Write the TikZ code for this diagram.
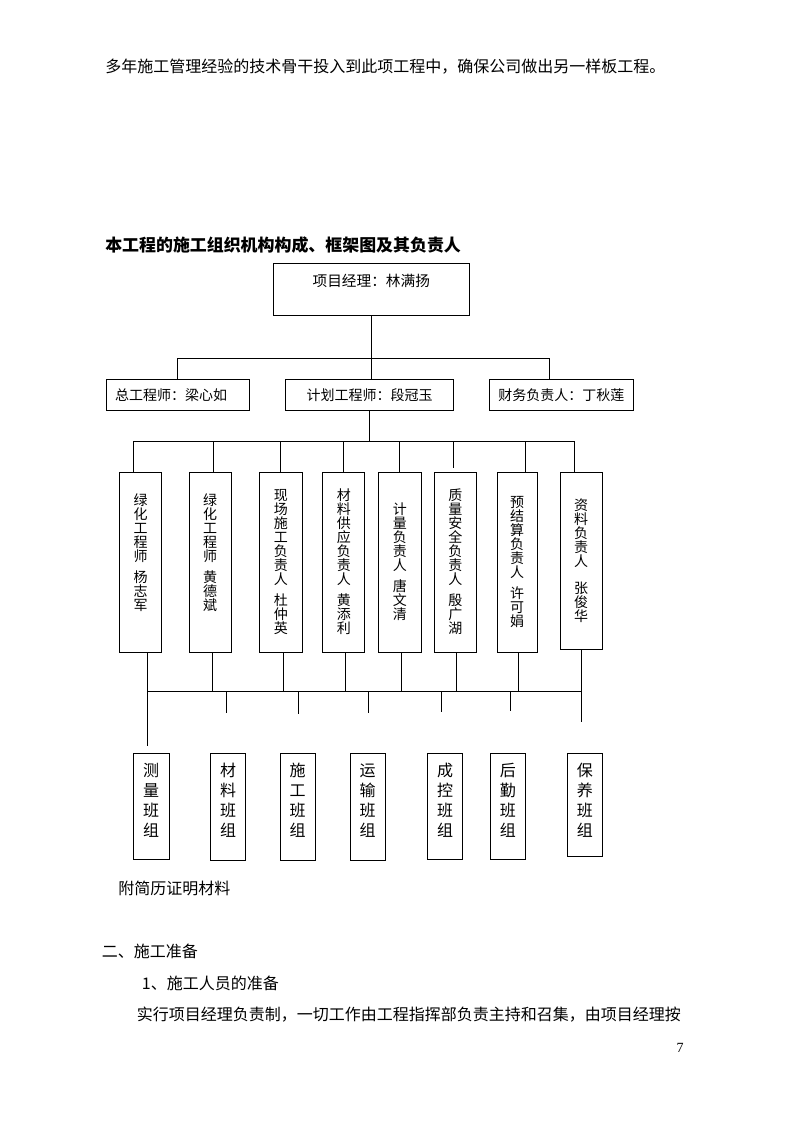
\documentclass[tikz,border=0pt]{standalone}
\usepackage{fontspec}
\setmainfont{Liberation Serif}
\newfontfamily\cjk{Noto Sans CJK SC}
\newcommand\PX{0.75pt}
% vertical stack: shift, size, skip, content
\newcommand\stk[4]{\raisebox{#1}[\height][\depth]{\parbox{20pt}{\centering\fontsize{#2}{#3}\selectfont #4}}}
\tikzset{
  ln/.style={line width=0.7pt},
  hbox/.style={draw, line width=0.7pt, inner sep=0pt, minimum height=31*\PX, font=\cjk\fontsize{10.5}{12}\selectfont},
  vbox/.style={draw, line width=0.7pt, inner sep=0pt, font=\cjk},
  gbox/.style={draw, line width=0.7pt, inner sep=0pt, font=\cjk},
  para/.style={anchor=west, inner sep=0pt, font=\cjk\fontsize{12}{14}\selectfont},
}
\begin{document}
\begin{tikzpicture}[x=0.75pt, y=-0.75pt]
\fill[white] (0,0) rectangle (794,1123);
\useasboundingbox (0,0) rectangle (794,1123);

% running text
\node[para] (p1) at (105,67) {多年施工管理经验的技术骨干投入到此项工程中，确保公司做出另一样板工程。};
\node[para, font=\cjk\bfseries\fontsize{12.7}{14}\selectfont] (hd) at (105,245.5) {本工程的施工组织机构构成、框架图及其负责人};

% top
\node[draw, line width=0.7pt, anchor=north, inner sep=0pt, minimum width=196*\PX,
      text height=16.9pt, text depth=22.1pt, font=\cjk\fontsize{11}{12}\selectfont]
      (top) at (371.3,263.3) {项目经理：林满扬};

% second row
\node[hbox, text width=125*\PX, align=left, inner xsep=9*\PX] (A) at (177.5,394.8) {总工程师：梁心如};
\node[hbox, minimum width=167.6*\PX] (B) at (369.5,394.8) {计划工程师：段冠玉};
\node[hbox, minimum width=144*\PX] (C) at (561.3,394.8) {财务负责人：丁秋莲};

\coordinate (h1L) at (177.3,358);
\coordinate (h1R) at (549.3,358);
\draw[ln] (top.south) -- (top.south |- B.north);
\draw[ln] (h1L) -- (h1R);
\draw[ln] (h1L) -- (h1L |- A.north);
\draw[ln] (h1R) -- (h1R |- C.north);

% third row (vertical boxes), y 472-652
\node[vbox, minimum width=42.4*\PX, minimum height=180*\PX] (v1) at (140.5,562) {\stk{7.1pt}{10.5}{10.5}{绿\\化\\工\\程\\师\\[5pt]杨\\志\\军}};
\node[vbox, minimum width=41.7*\PX, minimum height=180*\PX] (v2) at (210.2,562) {\stk{7.1pt}{10.5}{10.5}{绿\\化\\工\\程\\师\\[5pt]黄\\德\\斌}};
\node[vbox, minimum width=43*\PX, minimum height=180*\PX] (v3) at (280.8,562) {\stk{0pt}{10.5}{10.5}{现\\场\\施\\工\\负\\责\\人\\[5pt]杜\\仲\\英}};
\node[vbox, minimum width=42.3*\PX, minimum height=180*\PX] (v4) at (343.8,562) {\stk{0pt}{10.5}{10.5}{材\\料\\供\\应\\负\\责\\人\\[5pt]黄\\添\\利}};
\node[vbox, minimum width=43*\PX, minimum height=180*\PX] (v5) at (399.8,562) {\stk{0pt}{10.5}{10.5}{计\\量\\负\\责\\人\\[5pt]唐\\文\\清}};
\node[vbox, minimum width=42*\PX, minimum height=180*\PX] (v6) at (455.3,562) {\stk{0pt}{10.5}{10.5}{质\\量\\安\\全\\负\\责\\人\\[5pt]殷\\广\\湖}};
\node[vbox, minimum width=39.7*\PX, minimum height=180*\PX] (v7) at (517.2,562) {\stk{0pt}{10.5}{10.5}{预\\结\\算\\负\\责\\人\\[5pt]许\\可\\娟}};
\node[vbox, minimum width=41.7*\PX, minimum height=177*\PX] (v8) at (581.2,560.5) {\stk{0pt}{10.5}{10.5}{资\\料\\负\\责\\人\\[10pt]张\\俊\\华}};

\coordinate (h2) at (369.3,441);
\draw[ln] (B.south -| h2) -- (h2);
\coordinate (d1) at (133.3,441);
\coordinate (d2) at (213.3,441);
\coordinate (d3) at (280.3,441);
\coordinate (d4) at (343.3,441);
\coordinate (d5) at (399.3,441);
\coordinate (d6) at (453.3,441);
\coordinate (d7) at (525.7,441);
\coordinate (d8) at (574.3,441);
\coordinate (e6) at (453.3,468);
\draw[ln] (d1) -- (d8);
\draw[ln] (d1) -- (d1 |- v1.north);
\draw[ln] (d2) -- (d2 |- v2.north);
\draw[ln] (d3) -- (d3 |- v3.north);
\draw[ln] (d4) -- (d4 |- v4.north);
\draw[ln] (d5) -- (d5 |- v5.north);
\draw[ln] (d6) -- (e6);
\draw[ln] (d7) -- (d7 |- v7.north);
\draw[ln] (d8) -- (d8 |- v8.north);

% lower bus
\coordinate (u1) at (147,691);
\coordinate (u2) at (212,691);
\coordinate (u3) at (283,691);
\coordinate (u4) at (345,691);
\coordinate (u5) at (401,691);
\coordinate (u6) at (456,691);
\coordinate (u7) at (518,691);
\coordinate (u8) at (581,691);
\coordinate (w1) at (147,746);
\coordinate (w8) at (581,722);
\draw[ln] (u1) -- (u8);
\draw[ln] (v1.south -| u1) -- (w1);
\draw[ln] (v2.south -| u2) -- (u2);
\draw[ln] (v3.south -| u3) -- (u3);
\draw[ln] (v4.south -| u4) -- (u4);
\draw[ln] (v5.south -| u5) -- (u5);
\draw[ln] (v6.south -| u6) -- (u6);
\draw[ln] (v7.south -| u7) -- (u7);
\draw[ln] (v8.south -| u8) -- (w8);

\coordinate (r1) at (226,691); \coordinate (s1) at (226,713);
\coordinate (r2) at (298,691); \coordinate (s2) at (298,714);
\coordinate (r3) at (368,691); \coordinate (s3) at (368,713);
\coordinate (r4) at (441,691); \coordinate (s4) at (441,712);
\coordinate (r5) at (510,691); \coordinate (s5) at (510,711);
\draw[ln] (r1) -- (s1);
\draw[ln] (r2) -- (s2);
\draw[ln] (r3) -- (s3);
\draw[ln] (r4) -- (s4);
\draw[ln] (r5) -- (s5);

% fourth row, y 753-859
\node[gbox, minimum width=36*\PX, minimum height=106*\PX] (g1) at (151,806) {\stk{4.5pt}{12}{15}{测\\量\\班\\组}};
\node[gbox, minimum width=34.5*\PX, minimum height=107*\PX] (g2) at (228,806.5) {\stk{4.5pt}{12}{15}{材\\料\\班\\组}};
\node[gbox, minimum width=35*\PX, minimum height=107*\PX] (g3) at (297.5,806.5) {\stk{4.5pt}{12}{15}{施\\工\\班\\组}};
\node[gbox, minimum width=35*\PX, minimum height=107*\PX] (g4) at (367.5,806.5) {\stk{4.5pt}{12}{15}{运\\输\\班\\组}};
\node[gbox, minimum width=35.5*\PX, minimum height=106*\PX] (g5) at (445,806) {\stk{4.5pt}{12}{15}{成\\控\\班\\组}};
\node[gbox, minimum width=35*\PX, minimum height=106*\PX] (g6) at (507.8,806) {\stk{4.5pt}{12}{15}{后\\勤\\班\\组}};
\node[gbox, minimum width=35*\PX, minimum height=103.5*\PX] (g7) at (584.8,805) {\stk{3.5pt}{12}{15}{保\\养\\班\\组}};

% trailing text
\node[para] (p2) at (118,888) {附简历证明材料};
\node[para] (p3) at (101.7,951.7) {二、施工准备};
\node[para] (p4) at (141.7,983.3) {1、施工人员的准备};
\node[para] (p5) at (136.7,1015) {实行项目经理负责制，一切工作由工程指挥部负责主持和召集，由项目经理按};
\node[inner sep=0pt, font=\fontsize{10.5}{12}\selectfont] (pg) at (680,1048) {7};
\end{tikzpicture}
\end{document}
